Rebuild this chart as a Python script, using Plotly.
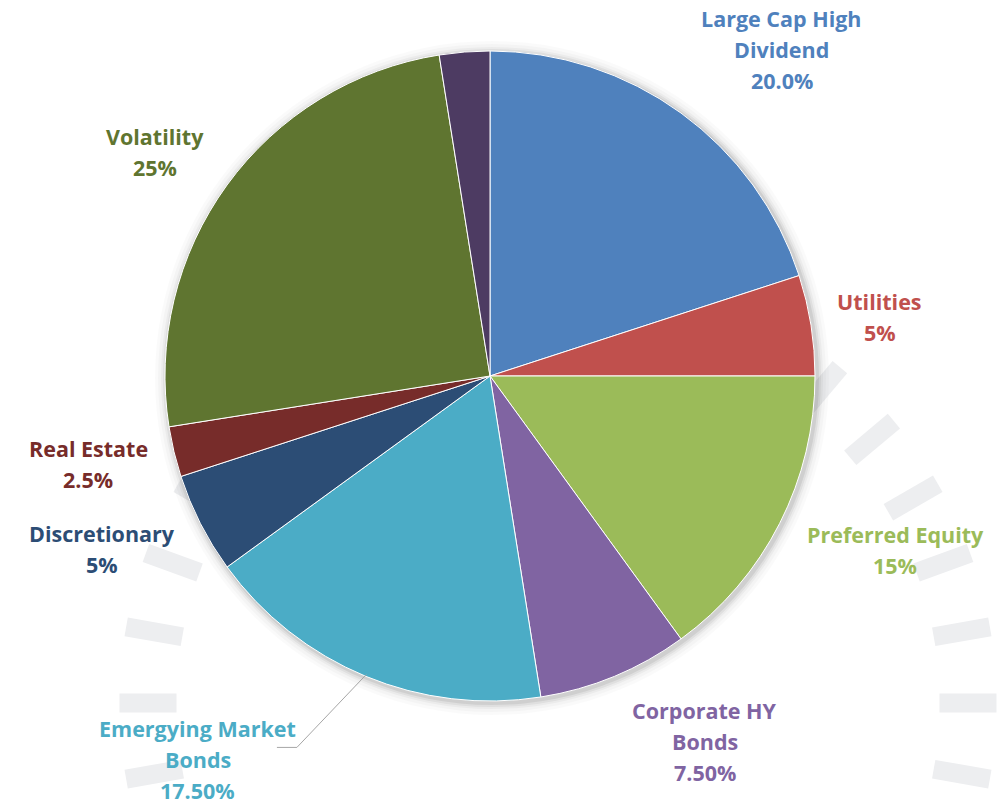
import math
import plotly.graph_objects as go

# ---------------- data ----------------
categories = ["Large Cap High Dividend", "Utilities", "Preferred Equity",
              "Corporate HY Bonds", "Emergying Market Bonds", "Discretionary",
              "Real Estate", "Volatility", "Other"]
values = [20.0, 5.0, 15.0, 7.5, 17.5, 5.0, 2.5, 25.0, 2.5]
name_lines = [["Large Cap High", "Dividend"], ["Utilities"], ["Preferred Equity"],
              ["Corporate HY", "Bonds"], ["Emergying Market", "Bonds"],
              ["Discretionary"], ["Real Estate"], ["Volatility"], None]
pct_labels = ["20.0%", "5%", "15%", "7.50%", "17.50%", "5%", "2.5%", "25%", None]

# ---------------- style ----------------
colors = ["#4F81BD", "#C0504D", "#9BBB59", "#8064A2", "#4BACC6",
          "#2C4D75", "#772C2A", "#5F7530", "#4D3B62"]
text_colors = ["#4F81BD", "#C0504D", "#9BBB59", "#8064A2", "#4BACC6",
               "#2C4D75", "#772C2A", "#5F7530", None]
# label placement: (distance from centre in px, angle nudge in degrees)
label_place = [(438, 5.8), (394, 0.4), (441, -3.7), (424, -7.9), (482, 14.8),
               (425, 3.0), (411, 1.2), (403, -2.2), None]
FONT = "Open Sans"
FONT_SIZE = 21.5

W, H = 1002, 806
dom_x = [165 / W, 815 / W]
dom_y = [1 - 701 / H, 1 - 51 / H]
cx = (dom_x[0] + dom_x[1]) / 2 * W
cy = (1 - (dom_y[0] + dom_y[1]) / 2) * H
R = min((dom_x[1] - dom_x[0]) * W, (dom_y[1] - dom_y[0]) * H) / 2


def px(x, y):
    return x / W, 1 - y / H


fig = go.Figure()
fig.add_trace(go.Pie(
    labels=categories, values=values, sort=False, direction="clockwise",
    rotation=0, marker=dict(colors=colors, line=dict(color="white", width=1)),
    textinfo="none", hoverinfo="skip", showlegend=False,
    domain=dict(x=dom_x, y=dom_y),
))

shapes = []
# decorative gauge ticks
gcx, gcy, gR = 558, 703, 410
tick_len, tick_w = 57, 19
for ang in range(-10, 191, 10):
    a = math.radians(ang)
    ux, uy = math.cos(a), -math.sin(a)
    vx, vy = -uy, ux
    mx, my = gcx + gR * ux, gcy + gR * uy
    pts = []
    for s, t in [(-1, -1), (1, -1), (1, 1), (-1, 1)]:
        X = mx + s * tick_len / 2 * ux + t * tick_w / 2 * vx
        Y = my + s * tick_len / 2 * uy + t * tick_w / 2 * vy
        pts.append(px(X, Y))
    path = "M " + " L ".join(f"{p[0]:.5f},{p[1]:.5f}" for p in pts) + " Z"
    shapes.append(dict(type="path", xref="paper", yref="paper", path=path,
                       fillcolor="#EDEEF0", line=dict(width=0), layer="below"))

# soft shadow under the pie
for r_add, op in [(12, 0.02), (9, 0.025), (6, 0.035), (4, 0.05), (2, 0.07)]:
    x0, y0 = px(cx - R - r_add + 2, cy - R - r_add + 2)
    x1, y1 = px(cx + R + r_add + 2, cy + R + r_add + 2)
    shapes.append(dict(type="circle", xref="paper", yref="paper", x0=x0, x1=x1,
                       y0=y1, y1=y0, fillcolor=f"rgba(0,0,0,{op})",
                       line=dict(width=0), layer="below"))

# labels
annotations = []
total = sum(values)
cum = 0.0
line_gap = 31
for i, v in enumerate(values):
    mid = (cum + v / 2) / total * 360
    cum += v
    if label_place[i] is None:
        continue
    dist, nudge = label_place[i]
    a = math.radians(mid + nudge)
    lx, ly = cx + dist * math.sin(a), cy - dist * math.cos(a)
    lines = name_lines[i] + [pct_labels[i]]
    n = len(lines)
    for j, txt in enumerate(lines):
        yy = ly + (j - (n - 1) / 2) * line_gap
        xp, yp = px(lx, yy)
        annotations.append(dict(
            x=xp, y=yp, xref="paper", yref="paper", text=f"<b>{txt}</b>",
            showarrow=False, xanchor="center", yanchor="middle",
            font=dict(family=FONT, size=FONT_SIZE, color=text_colors[i])))
    if categories[i] == "Emergying Market Bonds":
        am = math.radians(mid)
        sx, sy = cx + (R - 2) * math.sin(am), cy - (R - 2) * math.cos(am)
        ex, ey = lx + 99, ly - 12
        fx, fy = lx + 79, ly - 12
        p0, p1, p2 = px(sx, sy), px(ex, ey), px(fx, fy)
        shapes.append(dict(type="path", xref="paper", yref="paper",
                           path=f"M {p0[0]},{p0[1]} L {p1[0]},{p1[1]} L {p2[0]},{p2[1]}",
                           line=dict(color="#A6A6A6", width=1)))

fig.update_layout(
    width=W, height=H, margin=dict(l=0, r=0, t=0, b=0),
    paper_bgcolor="white", plot_bgcolor="white",
    shapes=shapes, annotations=annotations,
)
fig.write_html("out.html", config={"displayModeBar": False},
               post_script="document.body.style.margin='0px';"
                           "document.body.style.overflow='hidden';")
